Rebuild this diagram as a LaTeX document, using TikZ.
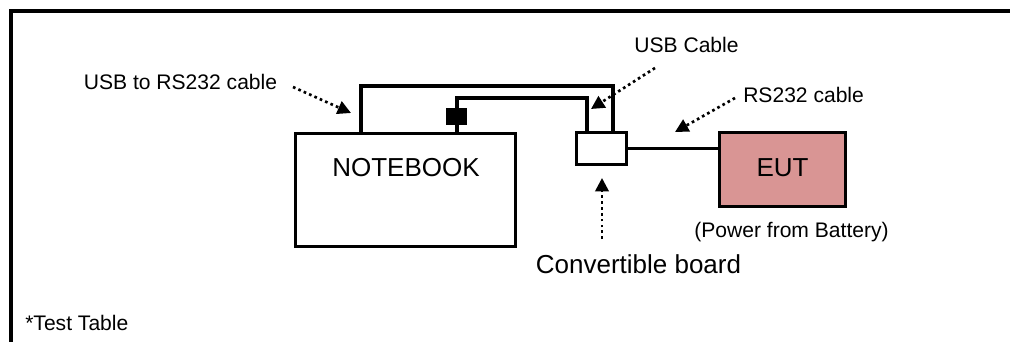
\documentclass[tikz,border=0pt]{standalone}
\usepackage{fontspec}
\setmainfont{Liberation Sans}
\usetikzlibrary{arrows.meta}

\definecolor{eutRed}{HTML}{D99594}

\tikzset{
  box/.style={draw, line width=2.6pt, inner sep=0pt},
  cable/.style={line width=2.6pt},
  pointer/.style={line width=2pt, dash pattern=on 2pt off 2.4pt,
    -{Triangle[length=10pt, width=10pt]}},
  lbl/.style={font=\fontsize{15.8}{18}\selectfont, inner sep=0pt},
  biglbl/.style={font=\fontsize{19.5}{22}\selectfont, inner sep=0pt}
}

\begin{document}
\begin{tikzpicture}[x=0.75pt, y=-0.75pt]

  \useasboundingbox (0,0) rectangle (1010,342);

  % test table frame
  \draw[line width=2.6pt] (1020,11) -- (11,11) -- (11,350);
  \node[lbl, anchor=west] (table) at (25,323) {*Test Table};

  % equipment
  \node[box, minimum width=165pt, minimum height=84.75pt] (nb) at (405.5,190) {};
  \node[biglbl] (nbtext) at (406,168) {NOTEBOOK};
  \node[box, minimum width=37.5pt, minimum height=24pt] (cb) at (601.5,148.5) {};
  \node[box, fill=eutRed, minimum width=94.5pt, minimum height=55.5pt] (eut) at (782.5,169.5) {};
  \node[biglbl] (euttext) at (782.5,168) {EUT};
  \node[lbl] (power) at (791.5,232) {(Power from Battery)};

  % cables
  \draw[cable] (nb.north -| 361,0) |- (613,86) -- (cb.north -| 613,0);
  \draw[cable] (nb.north -| 457,0) |- (587,98) -- (cb.north -| 587,0);
  \node[fill=black, minimum width=15.75pt, minimum height=12.75pt, inner sep=0pt]
    (plug) at (456.5,116.5) {};
  \draw[cable] (cb.east) -- (cb.east -| eut.west);

  % labels and pointers
  \node[lbl] (usbrs) at (180.5,82) {USB to RS232 cable};
  \node[lbl] (usb) at (686.5,45) {USB Cable};
  \node[lbl, anchor=west] (rs) at (743,95) {RS232 cable};
  \node[biglbl] (conv) at (638.5,264) {Convertible board};

  \coordinate (usbrsA) at (293,87);  \coordinate (usbrsB) at (351,113);
  \coordinate (usbA)   at (655,68);  \coordinate (usbB)   at (591,109);
  \coordinate (rsA)    at (735,98);  \coordinate (rsB)    at (675,132);
  \coordinate (convA)  at (602,239); \coordinate (convB)  at (602,178);
  \foreach \p in {usbrs, usb, rs, conv}
    \draw[pointer] (\p A) -- (\p B);

\end{tikzpicture}
\end{document}
